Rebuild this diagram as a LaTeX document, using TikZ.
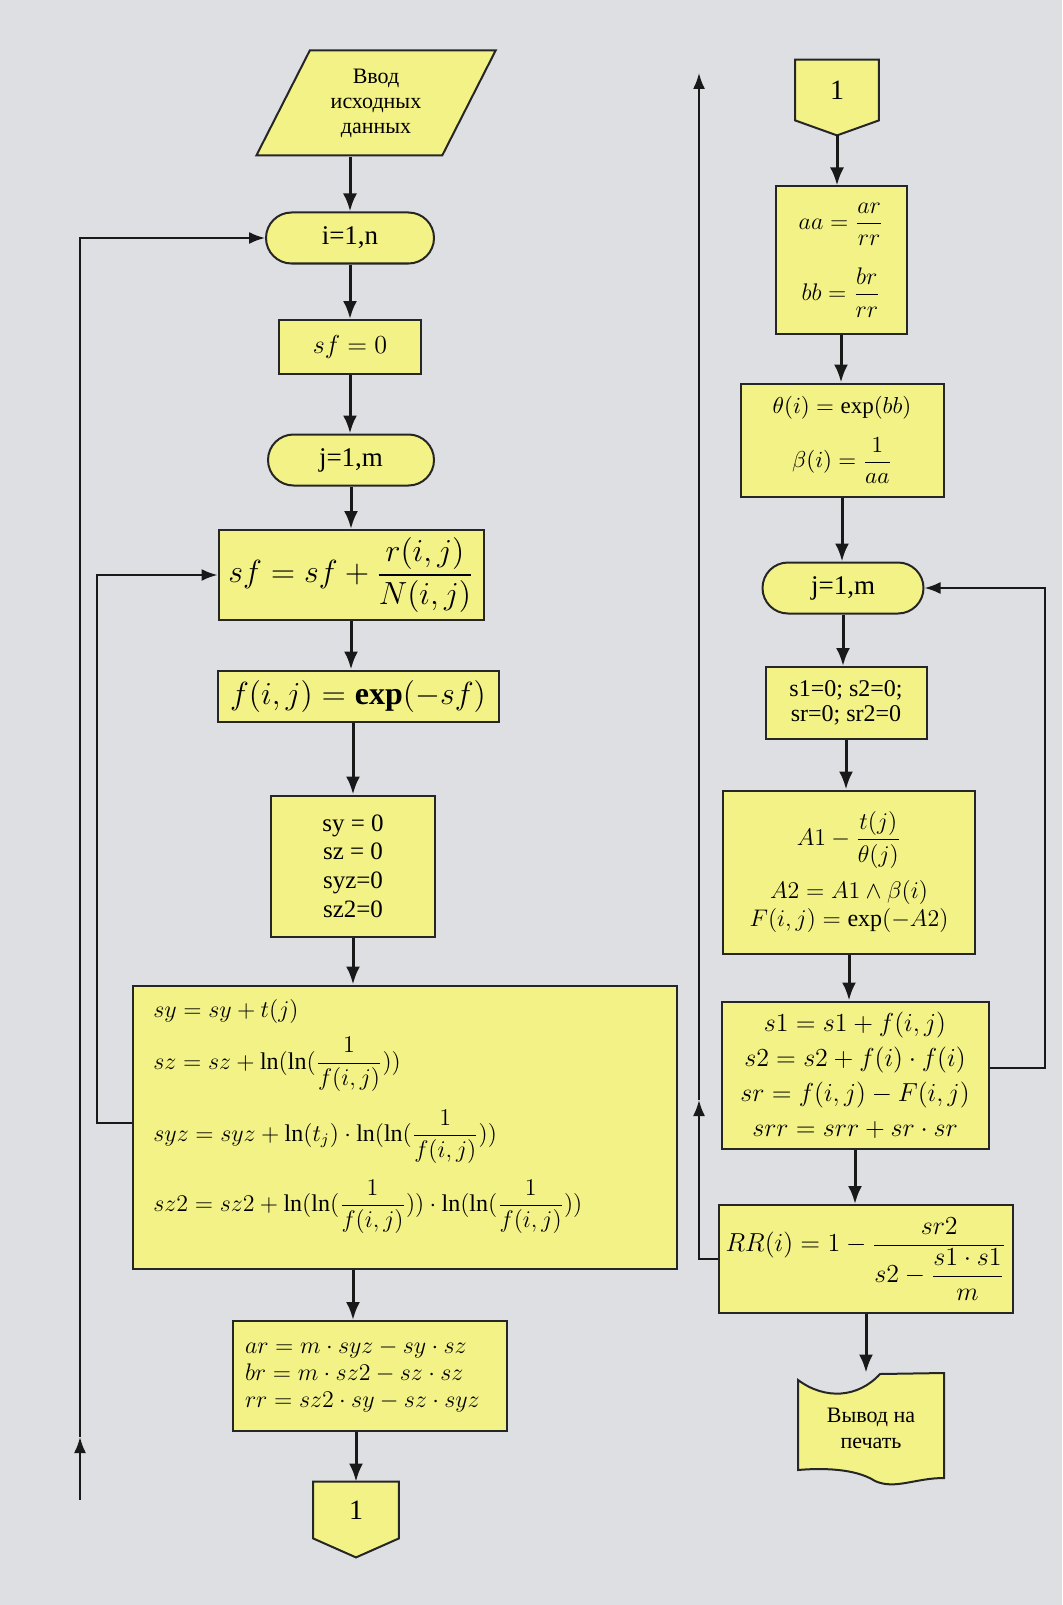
\RequirePackage{fix-cm}
\documentclass[tikz,border=0pt]{standalone}
\usepackage{amsmath}
\usepackage{fontspec}
\setmainfont{Liberation Serif}
\usetikzlibrary{shapes.geometric, shapes.misc, arrows.meta, calc, backgrounds}
\definecolor{paper}{RGB}{222,223,226}
\definecolor{boxfill}{RGB}{243,242,135}
\tikzset{%
  block/.style={draw=black!85, line width=1pt, fill=boxfill, rectangle, inner sep=0pt, align=center},
  terminal/.style={block, rounded rectangle, minimum width=84pt, minimum height=25.5pt,
    font=\fontsize{13.5}{15}\selectfont},
  io/.style={block, trapezium, trapezium left angle=62, trapezium right angle=118,
    trapezium stretches=true},
  label/.style={inner sep=0pt, align=center},
  outline/.style={draw=black!85, line width=1pt, fill=boxfill},
  flow/.style={draw=black!90, line width=1.5pt, -{Latex[length=9pt, width=7pt]}},
  back/.style={draw=black!90, line width=1pt, -{Latex[length=8pt, width=6pt]}}
}

\begin{document}
\begin{tikzpicture}[x=0.5pt, y=-0.5pt]
  \useasboundingbox (0,0) rectangle (1062,1605);
  \begin{scope}[on background layer]
    \fill[paper] (0,0) rectangle (1062,1605);
  \end{scope}

  \node[io, minimum width=120pt, minimum height=52.5pt, font=\fontsize{11}{12.5}\selectfont] (input) at (376,103) {Ввод\\исходных\\данных};
  \node[terminal] (i1) at (350,238) {i=1,n};
  \node[block, minimum width=71pt, minimum height=27pt, font=\fontsize{13}{15}\selectfont] (sf0) at (350,347) {$sf = 0$};
  \node[terminal, minimum width=83pt] (j1) at (351,460) {j=1,m};
  \node[block, minimum width=132.5pt, minimum height=45pt, font=\fontsize{16}{18}\selectfont] (sfsum) at (351,575) {$sf = sf + \dfrac{r(i,j)}{N(i,j)}$};
  \node[block, minimum width=140.5pt, minimum height=25.5pt, font=\fontsize{16}{18}\selectfont] (fexp) at (358,696) {$f(i,j) = \mathbf{exp}(-sf)$};
  \node[block, minimum width=82pt, minimum height=70.5pt, font=\fontsize{12.5}{14.3}\selectfont] (zero) at (353,866) {sy = 0\\sz = 0\\syz=0\\sz2=0};
  \node[block, minimum width=272pt, minimum height=141.5pt] (sums) at (405,1127) {};
  \node[label, anchor=north west, align=left, font=\fontsize{12}{14}\selectfont] (sumtext) at (153,999) {%
    $sy = sy + t(j)$\\[6pt]
    $sz = sz + \ln(\ln(\dfrac{1}{f(i,j)}))$\\[8pt]
    $syz = syz + \ln(t_j)\cdot\ln(\ln(\dfrac{1}{f(i,j)}))$\\[7pt]
    $sz2 = sz2 + \ln(\ln(\dfrac{1}{f(i,j)}))\cdot\ln(\ln(\dfrac{1}{f(i,j)}))$};
  \node[block, text width=125pt, inner xsep=6pt, minimum height=55pt, align=left, font=\fontsize{12}{13.5}\selectfont] (coef) at (370,1376) {$ar = m\cdot syz - sy\cdot sz$\\$br = m\cdot sz2 - sz\cdot sz$\\$rr = sz2\cdot sy - sz\cdot syz$};
  \node[label, minimum width=42.5pt, minimum height=28pt, font=\fontsize{14}{16}\selectfont] (c1) at (356,1510) {1};

  \node[label, minimum width=41.5pt, minimum height=30pt, font=\fontsize{14}{16}\selectfont] (c2) at (837,90) {1};
  \node[block, minimum width=65.5pt, minimum height=73.5pt, font=\fontsize{12}{14}\selectfont] (ratio) at (841,260) {$aa = \dfrac{ar}{rr}$\\[10pt]$bb = \dfrac{br}{rr}$};
  \node[block, minimum width=101.5pt, minimum height=56.5pt, font=\fontsize{11.5}{13.5}\selectfont] (param) at (842,440) {$\theta(i) = \exp(bb)$\\[8pt]$\beta(i) = \dfrac{1}{aa}$};
  \node[terminal, minimum width=80.5pt] (j2) at (843,588) {j=1,m};
  \node[block, minimum width=80.5pt, minimum height=36pt, font=\fontsize{12}{12.5}\selectfont] (init) at (846,703) {s1=0; s2=0;\\sr=0; sr2=0};
  \node[block, minimum width=126pt, minimum height=81.5pt, font=\fontsize{12}{14}\selectfont] (model) at (849,872) {$A1 - \dfrac{t(j)}{\theta(j)}$\\[5pt]$A2 = A1 \wedge \beta(i)$\\$F(i,j) = \exp(-A2)$};
  \node[block, minimum width=133.5pt, minimum height=73.5pt, font=\fontsize{13}{17.5}\selectfont] (acc) at (855,1075) {$s1 = s1 + f(i,j)$\\$s2 = s2 + f(i)\cdot f(i)$\\$sr = f(i,j) - F(i,j)$\\$srr = srr + sr\cdot sr$};
  \node[block, minimum width=147pt, minimum height=54pt, font=\fontsize{13}{15}\selectfont] (rr) at (866,1259) {$RR(i) = 1 - \dfrac{sr2}{s2 - \dfrac{s1\cdot s1}{m}}$};
  \node[label, minimum width=73pt, minimum height=55pt, font=\fontsize{11}{13}\selectfont] (out) at (871,1428) {Вывод на\\печать};

  \coordinate (c1tip) at ($(c1.south)+(0,19)$);
  \coordinate (c2tip) at ($(c2.south)+(0,15)$);
  \begin{scope}[on background layer]
    \draw[outline] (c1.north west) -- (c1.north east) -- (c1.south east) -- (c1tip) -- (c1.south west) -- cycle;
    \draw[outline] (c2.north west) -- (c2.north east) -- (c2.south east) -- (c2tip) -- (c2.south west) -- cycle;
    \draw[outline] (798,1380) .. controls (825,1400) and (858,1398) .. (880,1374) -- (944,1373) -- (944,1478)
      .. controls (915,1478) and (895,1490) .. (875,1481) .. controls (855,1468) and (820,1468) .. (798,1470) -- cycle;
  \end{scope}

  \draw[flow] (i1.north |- input.south) -- (i1.north);
  \draw[flow] (i1.south) -- (i1.south |- sf0.north);
  \draw[flow] (sf0.south) -- (sf0.south |- j1.north);
  \draw[flow] (j1.south) -- (j1.south |- sfsum.north);
  \draw[flow] (sfsum.south) -- (sfsum.south |- fexp.north);
  \draw[flow] (zero.north |- fexp.south) -- (zero.north);
  \draw[flow] (zero.south) -- (zero.south |- sums.north);
  \draw[flow] (zero.south |- sums.south) -- (zero.south |- coef.north);
  \draw[flow] (c1.north |- coef.south) -- (c1.north);

  \draw[flow] (c2tip) -- (c2tip |- ratio.north);
  \draw[flow] (ratio.south) -- (ratio.south |- param.north);
  \draw[flow] (param.south) -- (param.south |- j2.north);
  \draw[flow] (j2.south) -- (j2.south |- init.north);
  \draw[flow] (init.south) -- (init.south |- model.north);
  \draw[flow] (model.south) -- (model.south |- acc.north);
  \draw[flow] (acc.south) -- (acc.south |- rr.north);
  \draw[flow] (rr.south) -- (rr.south |- out.north);

  \coordinate (outin) at (80,1500);
  \coordinate (outmid) at (80,1437);
  \draw[back] (outin) -- (outmid);
  \draw[back] (outmid) |- (i1.west);
  \coordinate (inner) at (sums.west |- 0,1123);
  \draw[back] (inner) -- ++(-35,0) |- (sfsum.west);
  \coordinate (jback) at (acc.east |- 0,1068);
  \draw[back] (jback) -- ++(55,0) |- (j2.east);
  \coordinate (rmid) at (699,1100);
  \coordinate (rtop) at (699,73);
  \draw[back] (rr.west) -| (rmid);
  \draw[back] (rmid) -- (rtop);
\end{tikzpicture}
\end{document}
